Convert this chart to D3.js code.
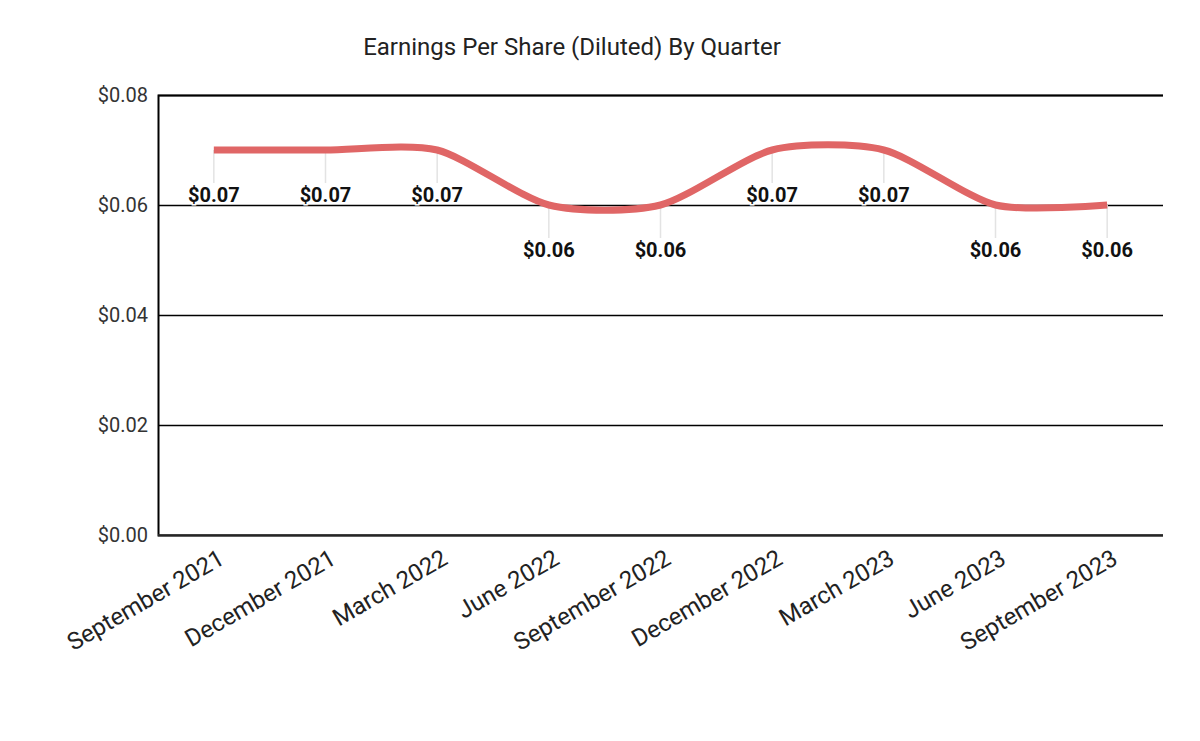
<!DOCTYPE html>
<html>
<head>
<meta charset="utf-8">
<script src="https://cdn.jsdelivr.net/npm/d3@7"></script>
<style>
  body { margin: 0; background: #fff; }
  svg { font-family: Roboto, "Noto Sans", sans-serif; }
</style>
</head>
<body>
<svg id="chart"></svg>
<script>
// quarters and EPS values
const quarters = ["September 2021", "December 2021", "March 2022", "June 2022", "September 2022",
  "December 2022", "March 2023", "June 2023", "September 2023"];
const eps = [0.07, 0.07, 0.07, 0.06, 0.06, 0.07, 0.07, 0.06, 0.06];
const yTicks = [0, 0.02, 0.04, 0.06, 0.08];

const width = 1200, height = 741;
const margin = { top: 95, right: 37, bottom: 206, left: 158 };

const svg = d3.select("#chart")
  .attr("width", width)
  .attr("height", height);

const x = d3.scaleBand()
  .domain(quarters)
  .range([margin.left, width - margin.right]);

const y = d3.scaleLinear()
  .domain([0, 0.08])
  .range([height - margin.bottom, margin.top]);

const fmt = d => "$" + d.toFixed(2);

// title
svg.append("text")
  .attr("x", 572)
  .attr("y", 55)
  .attr("text-anchor", "middle")
  .attr("font-size", 24)
  .attr("fill", "#222")
  .text("Earnings Per Share (Diluted) By Quarter");

// gridlines + y labels
const yAxis = d3.axisLeft(y)
  .tickValues(yTicks)
  .tickFormat(fmt)
  .tickSize(-(width - margin.left - margin.right))
  .tickPadding(10);

svg.append("g")
  .attr("transform", `translate(${margin.left},0)`)
  .call(yAxis)
  .call(g => g.select(".domain").attr("stroke", "#000").attr("stroke-width", 2))
  .call(g => g.selectAll(".tick line").attr("stroke", "#000").attr("stroke-width", 1.5))
  .call(g => g.selectAll(".tick text")
    .attr("font-size", 20)
    .attr("fill", "#333")
    .attr("x", -10)
    .style("font-family", "Roboto"));

// baseline
svg.append("line")
  .attr("x1", margin.left).attr("x2", width - margin.right)
  .attr("y1", y(0)).attr("y2", y(0))
  .attr("stroke", "#333").attr("stroke-width", 1.5);

// x labels
const xAxis = d3.axisBottom(x).tickSize(0).tickPadding(0);
svg.append("g")
  .attr("transform", `translate(0,${y(0)})`)
  .call(xAxis)
  .call(g => g.select(".domain").remove())
  .call(g => g.selectAll(".tick text")
    .attr("font-size", 24)
    .attr("fill", "#222")
    .attr("text-anchor", "end")
    .attr("dy", 0)
    .attr("transform", "translate(12,28) rotate(-30)")
    .style("font-family", "Roboto"));

const cx = d => x(d) + x.bandwidth() / 2;

// leader lines
const pts = quarters.map((q, i) => ({ q, v: eps[i] }));
svg.append("g").selectAll("line")
  .data(pts)
  .join("line")
  .attr("x1", d => cx(d.q)).attr("x2", d => cx(d.q))
  .attr("y1", d => y(d.v)).attr("y2", d => y(d.v) + 33)
  .attr("stroke", "#e3e3e3").attr("stroke-width", 1.5);

// line
const line = d3.line()
  .x(d => cx(d.q))
  .y(d => y(d.v))
  .curve(d3.curveCardinal.tension(0.25));

svg.append("path")
  .datum(pts)
  .attr("fill", "none")
  .attr("stroke", "#e06666")
  .attr("stroke-width", 7)
  .attr("stroke-linecap", "butt")
  .attr("d", line);

// data labels
svg.append("g").selectAll("text")
  .data(pts)
  .join("text")
  .attr("x", d => cx(d.q))
  .attr("y", d => y(d.v) + 52)
  .attr("text-anchor", "middle")
  .attr("font-size", 20)
  .attr("font-weight", "bold")
  .attr("fill", "#111")
  .attr("stroke", "#fff")
  .attr("stroke-width", 3)
  .attr("paint-order", "stroke")
  .text(d => fmt(d.v));
</script>
</body>
</html>
